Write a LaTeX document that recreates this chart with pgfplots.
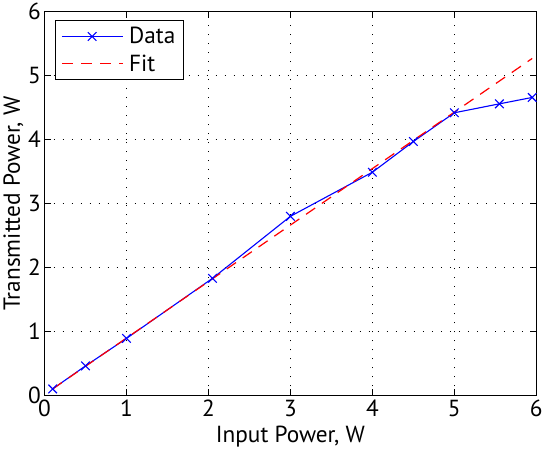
\documentclass[border=0pt]{standalone}
\usepackage{pgfplots}
\pgfplotsset{compat=1.18}
\usepackage{fontspec}
\setmainfont{PT Sans}
\begin{document}
\begin{tikzpicture}
\begin{axis}[
    scale only axis,
    width=486pt, height=379pt,
    xmin=0, xmax=6, ymin=0, ymax=6,
    xtick={0,1,...,6}, ytick={0,1,...,6},
    tick align=inside,
    major tick length=6pt,
    xtick pos=both, ytick pos=both,
    grid=major,
    grid style={black, line width=0.9pt, dash pattern=on 0.9pt off 8pt},
    axis line style={black, line width=1pt},
    tick style={black, line width=1pt},
    font=\fontsize{23}{26}\selectfont,
    /pgf/number format/assume math mode=true,
    xticklabel style={yshift=-1pt},
    xlabel={Input Power, W},
    ylabel={Transmitted Power, W},
    xlabel style={yshift=-2pt},
    ylabel style={yshift=-2pt},
    legend style={at={(rel axis cs:0,1)}, anchor=north west,
        xshift=10pt, yshift=-8pt, line width=1pt,
        inner xsep=6pt, inner ysep=5pt, row sep=5pt,
        /tikz/every odd column/.append style={column sep=4pt},
        legend cell align=left},
]
\addplot[blue, line width=1.1pt, mark=x, mark size=6pt, mark options={solid},
    legend image code/.code={
        \draw[draw=blue, line width=1.1pt] (0pt,0pt) -- (60pt,0pt);
        \draw[draw=blue, line width=1.1pt] plot[only marks, mark=x, mark size=6pt] coordinates {(30pt,0pt)};
    }]
coordinates {
    (0.1, 0.10)
    (0.5, 0.46)
    (1.0, 0.89)
    (2.05, 1.83)
    (3.0, 2.80)
    (4.0, 3.49)
    (4.5, 3.97)
    (5.0, 4.42)
    (5.55, 4.56)
    (5.95, 4.66)
};
\addlegendentry{Data}
\addplot[red, line width=1.2pt, dash pattern=on 11pt off 8pt,
    legend image code/.code={
        \draw[draw=red, line width=1.2pt, dash pattern=on 11pt off 8pt] (0pt,0pt) -- (60pt,0pt);
    }]
coordinates {
    (0.1, 0.10)
    (5.95, 5.27)
};
\addlegendentry{Fit}
\end{axis}
\end{tikzpicture}
\end{document}
